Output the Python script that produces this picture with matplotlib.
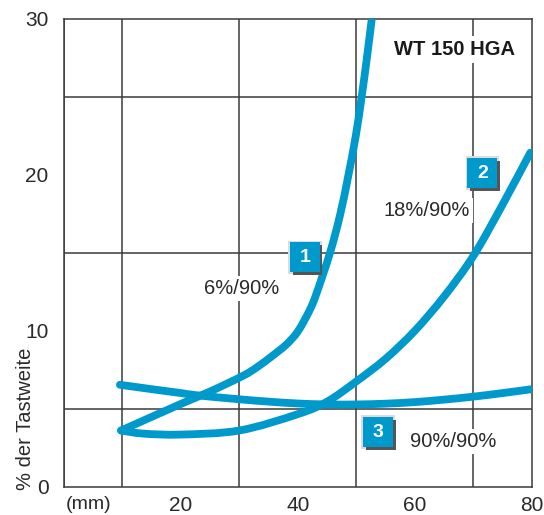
import matplotlib
matplotlib.use("Agg")
import matplotlib.pyplot as plt
from matplotlib.patches import Rectangle, PathPatch
from matplotlib.path import Path

plt.rcParams['font.family'] = ['Liberation Sans', 'DejaVu Sans']

# ---- data ----
c1_x = [9.8, 20, 25, 30.6, 33, 35.7, 38, 40, 42, 43.2, 45.5, 47.2, 48.6, 49.9, 50.9, 51.8, 52.6]
c1_y = [3.6, 5.3, 6.1, 7.1, 7.65, 8.4, 9.1, 9.95, 11.3, 12.4, 15.0, 17.4, 19.9, 22.5, 25, 27.5, 29.9]

c2_x = [9.8, 13.6, 20, 30, 40, 45, 50, 55, 60, 65, 70, 75, 79.7]
c2_y = [3.6, 3.4, 3.34, 3.6, 4.65, 5.45, 6.75, 8.2, 10, 12.2, 14.8, 18.1, 21.4]

c3_x = [9.6, 15, 20, 22.9, 30, 35, 40, 45, 50, 55, 60, 65, 70, 75, 80]
c3_y = [6.53, 6.25, 6.0, 5.85, 5.6, 5.45, 5.33, 5.27, 5.27, 5.32, 5.42, 5.58, 5.77, 6.0, 6.25]

x_ticks = [20, 40, 60, 80]
y_ticks = [0, 10, 20, 30]

badge_labels = ['1', '2', '3']
badge_x = [41.2, 71.5, 53.7]
badge_y = [14.7, 20.1, 3.5]

curve_labels = ['6%/90%', '18%/90%', '90%/90%']
label_x = [30.4, 62.0, 66.5]
label_y = [12.7, 17.7, 2.9]

title_text = 'WT 150 HGA'
ylabel_text = '% der Tastweite'
xunit_text = '(mm)'

BLUE = '#0099cc'
GRID = '#3a3a3a'
TXT = '#2a2a2a'

fig = plt.figure(figsize=(5.44, 5.15), dpi=100)
ax = fig.add_axes([0.1171, 0.055, 0.8609, 0.909])
ax.set_xlim(0, 80)
ax.set_ylim(0, 30)

# grid
ax.set_xticks(range(0, 81, 10), minor=True)
ax.set_yticks(range(0, 31, 5), minor=True)
ax.grid(True, which='minor', color=GRID, linewidth=1.1)
ax.set_axisbelow(True)
for s in ax.spines.values():
    s.set_color(GRID)
    s.set_linewidth(1.1)

ax.set_xticks(x_ticks)
ax.set_yticks(y_ticks)
ax.tick_params(which='both', length=0)
ax.tick_params(axis='y', pad=11, labelsize=15, labelcolor=TXT)
ax.tick_params(axis='x', pad=6.5, labelsize=15, labelcolor=TXT)


def smooth_path(xs, ys):
    """Catmull-Rom curve through the read points, rendered as Bezier segments."""
    pts = list(zip(xs, ys))
    verts = [pts[0]]
    codes = [Path.MOVETO]
    n = len(pts)
    for i in range(n - 1):
        p0 = pts[i - 1] if i > 0 else pts[i]
        p1 = pts[i]
        p2 = pts[i + 1]
        p3 = pts[i + 2] if i + 2 < n else pts[i + 1]
        c1 = (p1[0] + (p2[0] - p0[0]) / 6.0, p1[1] + (p2[1] - p0[1]) / 6.0)
        c2 = (p2[0] - (p3[0] - p1[0]) / 6.0, p2[1] - (p3[1] - p1[1]) / 6.0)
        verts += [c1, c2, p2]
        codes += [Path.CURVE4] * 3
    return Path(verts, codes)


for xs, ys in [(c3_x, c3_y), (c2_x, c2_y), (c1_x, c1_y)]:
    patch = PathPatch(smooth_path(xs, ys), facecolor='none', edgecolor=BLUE,
                      linewidth=5.6, capstyle='round', joinstyle='round', zorder=3)
    ax.add_patch(patch)

# curve labels with white background
for t, x, y in zip(curve_labels, label_x, label_y):
    ax.text(x, y, t, ha='center', va='center', fontsize=14.5, color=TXT, zorder=4,
            bbox=dict(boxstyle='square,pad=0.15', facecolor='white', edgecolor='none'))

# title
ax.text(66.8, 28.0, title_text, ha='center', va='center', fontsize=14.5,
        fontweight='bold', color='#1a1a1a', zorder=4,
        bbox=dict(boxstyle='square,pad=0.2', facecolor='white', edgecolor='none'))

# numbered badges
bw, bh = 5.1, 1.9
for t, x, y in zip(badge_labels, badge_x, badge_y):
    ax.add_patch(Rectangle((x - bw / 2 - 0.3, y - bh / 2 - 0.12), bw + 0.6, bh + 0.24,
                           facecolor='#dcdcdc', edgecolor='none', zorder=5))
    ax.add_patch(Rectangle((x - bw / 2 + 0.45, y - bh / 2 - 0.17), bw, bh,
                           facecolor='#555555', edgecolor='none', zorder=5))
    ax.add_patch(Rectangle((x - bw / 2, y - bh / 2), bw, bh,
                           facecolor=BLUE, edgecolor='none', zorder=6))
    ax.text(x, y, t, ha='center', va='center', fontsize=14, fontweight='bold',
            color='white', zorder=7)

# unit and y label
ax.text(4.2, -0.6, xunit_text, ha='center', va='top', fontsize=14, color=TXT)
ax.text(-6.6, -0.2, ylabel_text, rotation=90, ha='center', va='bottom',
        fontsize=14.5, color=TXT)

fig.savefig('out.png', dpi=100)
